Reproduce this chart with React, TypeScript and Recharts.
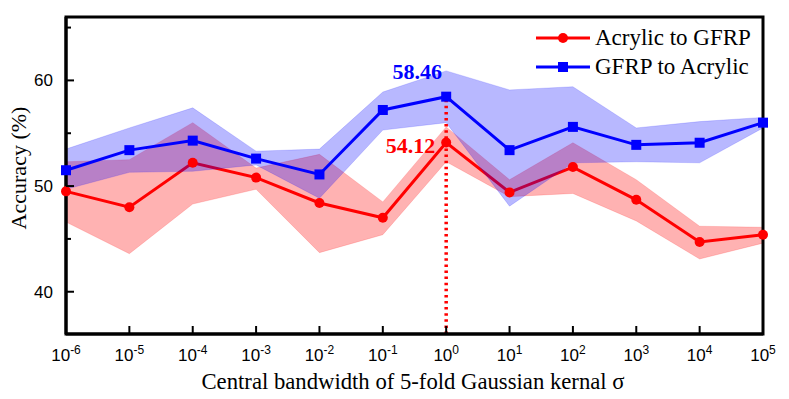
import {
  ComposedChart,
  Area,
  Line,
  XAxis,
  YAxis,
  ReferenceArea,
  ReferenceLine,
  ReferenceDot,
  Legend,
} from "recharts";

const exponents = ["-6", "-5", "-4", "-3", "-2", "-1", "0", "1", "2", "3", "4", "5"];

const acrylicToGfrp = [49.5, 48.0, 52.2, 50.8, 48.4, 47.0, 54.12, 49.4, 51.8, 48.7, 44.7, 45.4];
const acrylicToGfrpLow = [46.6, 43.6, 48.3, 49.7, 43.7, 45.4, 52.3, 49.0, 49.3, 46.7, 43.1, 44.6];
const acrylicToGfrpHigh = [52.3, 52.5, 56.0, 51.7, 53.0, 48.5, 55.6, 50.6, 54.1, 50.6, 46.2, 46.1];

const gfrpToAcrylic = [51.5, 53.4, 54.3, 52.6, 51.1, 57.2, 58.46, 53.4, 55.6, 53.9, 54.1, 56.0];
const gfrpToAcrylicLow = [49.7, 51.3, 51.4, 52.0, 48.85, 55.3, 56.0, 48.1, 52.2, 52.3, 52.2, 55.5];
const gfrpToAcrylicHigh = [53.5, 55.5, 57.4, 53.3, 53.5, 58.9, 60.9, 59.1, 59.4, 55.5, 56.1, 56.5];

const yTicks = [40, 45, 50, 55, 60, 65];
const yLabels = [40, 50, 60];

const RED = "#ff0000";
const BLUE = "#0000ff";
const SERIF = "'Liberation Serif', 'Times New Roman', serif";
const SANS = "'Liberation Sans', Arial, sans-serif";

const data = exponents.map((e, i) => ({
  x: e,
  red: acrylicToGfrp[i],
  redBand: [acrylicToGfrpLow[i], acrylicToGfrpHigh[i]],
  blue: gfrpToAcrylic[i],
  blueBand: [gfrpToAcrylicLow[i], gfrpToAcrylicHigh[i]],
}));

const XTick = (props: any) => {
  const { x, y, payload } = props;
  return (
    <g>
      <line x1={x} y1={y} x2={x} y2={y - 8} stroke="#000" strokeWidth={2} />
      <text x={x} y={y + 27} textAnchor="middle" fontFamily={SANS} fontSize={17} fill="#000">
        10
        <tspan dy={-7} fontSize={12}>
          {payload.value}
        </tspan>
      </text>
    </g>
  );
};

const YTick = (props: any) => {
  const { x, y, payload } = props;
  const major = yLabels.includes(payload.value);
  return (
    <g>
      <line x1={x} y1={y} x2={x + (major ? 8 : 5)} y2={y} stroke="#000" strokeWidth={2} />
      {major && (
        <text x={x - 13} y={y + 6} textAnchor="end" fontFamily={SANS} fontSize={17} fill="#000">
          {payload.value}
        </text>
      )}
    </g>
  );
};

const Square = (props: any) => {
  const { cx, cy, index } = props;
  return <rect key={`sq-${index}`} x={cx - 5} y={cy - 5} width={10} height={10} fill={BLUE} />;
};

const LegendBox = () => (
  <div style={{ fontFamily: SERIF, fontSize: 23, color: "#000", lineHeight: "29px" }}>
    {[
      { label: "Acrylic to GFRP", color: RED, shape: "circle" },
      { label: "GFRP to Acrylic", color: BLUE, shape: "square" },
    ].map((it) => (
      <div key={it.label} style={{ display: "flex", alignItems: "center", height: 29 }}>
        <svg width={56} height={14} style={{ marginRight: 4 }}>
          <line x1={1} y1={7} x2={55} y2={7} stroke={it.color} strokeWidth={3} />
          {it.shape === "circle" ? (
            <circle cx={28} cy={7} r={5} fill={it.color} />
          ) : (
            <rect x={23} y={2} width={10} height={10} fill={it.color} />
          )}
        </svg>
        <span>{it.label}</span>
      </div>
    ))}
  </div>
);

export default function App() {
  return (
    <div style={{ position: "absolute", left: 0, top: 0, width: 789, height: 399, background: "#fff" }}>
      <ComposedChart
        width={789}
        height={399}
        data={data}
        margin={{ top: 17, right: 26, bottom: 25, left: 26 }}
      >
        <XAxis
          dataKey="x"
          height={40}
          tickLine={false}
          tickSize={0}
          tickMargin={0}
          axisLine={{ stroke: "#000", strokeWidth: 3 }}
          tick={<XTick />}
          interval={0}
          label={{
            content: () => (
              <text x={413} y={389} textAnchor="middle" fontFamily={SERIF} fontSize={22.7} fill="#000">
                Central bandwidth of 5-fold Gaussian kernal σ
              </text>
            ),
          }}
        />
        <YAxis
          width={40}
          domain={[36, 66]}
          ticks={yTicks}
          tickLine={false}
          tickSize={0}
          tickMargin={0}
          axisLine={{ stroke: "#000", strokeWidth: 3 }}
          tick={<YTick />}
          label={{
            content: () => (
              <text
                x={26}
                y={168}
                transform="rotate(-90, 26, 168)"
                textAnchor="middle"
                fontFamily={SERIF}
                fontSize={22}
                fill="#000"
              >
                Accuracy (%)
              </text>
            ),
          }}
        />
        <Area
          dataKey="redBand"
          fill={RED}
          fillOpacity={0.3}
          stroke={RED}
          strokeOpacity={0.15}
          strokeWidth={1}
          isAnimationActive={false}
          zIndex={100}
        />
        <Line
          dataKey="red"
          stroke={RED}
          strokeWidth={3}
          dot={{ r: 5, fill: RED, stroke: "none" }}
          activeDot={false}
          isAnimationActive={false}
          zIndex={101}
        />
        <Area
          dataKey="blueBand"
          fill={BLUE}
          fillOpacity={0.28}
          stroke={BLUE}
          strokeOpacity={0.15}
          strokeWidth={1}
          isAnimationActive={false}
          zIndex={102}
        />
        <Line
          dataKey="blue"
          stroke={BLUE}
          strokeWidth={3}
          dot={<Square />}
          activeDot={false}
          isAnimationActive={false}
          zIndex={103}
        />
        <ReferenceLine
          segment={[
            { x: "0", y: 36 },
            { x: "0", y: 58.46 },
          ]}
          stroke={RED}
          strokeWidth={3.5}
          strokeDasharray="2.5 3.6"
          zIndex={104}
        />
        <ReferenceDot
          x="0"
          y={58.46}
          r={0}
          zIndex={105}
          label={{
            content: (p: any) => (
              <text
                x={p.viewBox.x + p.viewBox.width / 2 - 29}
                y={p.viewBox.y + p.viewBox.height / 2 - 18}
                textAnchor="middle"
                fontFamily={SERIF}
                fontWeight="bold"
                fontSize={22}
                fill={BLUE}
              >
                58.46
              </text>
            ),
          }}
        />
        <ReferenceDot
          x="0"
          y={54.12}
          r={0}
          zIndex={105}
          label={{
            content: (p: any) => (
              <text
                x={p.viewBox.x + p.viewBox.width / 2 - 11}
                y={p.viewBox.y + p.viewBox.height / 2 + 10}
                textAnchor="end"
                fontFamily={SERIF}
                fontWeight="bold"
                fontSize={22}
                fill={RED}
              >
                54.12
              </text>
            ),
          }}
        />
        <ReferenceArea
          x1="-6"
          x2="5"
          y1={36}
          y2={66}
          fill="none"
          stroke="#000"
          strokeWidth={3}
          zIndex={106}
        />
        <Legend
          layout="vertical"
          align="center"
          verticalAlign="middle"
          content={<LegendBox />}
          wrapperStyle={{ left: 535, top: 23, width: 240 }}
        />
      </ComposedChart>
    </div>
  );
}
